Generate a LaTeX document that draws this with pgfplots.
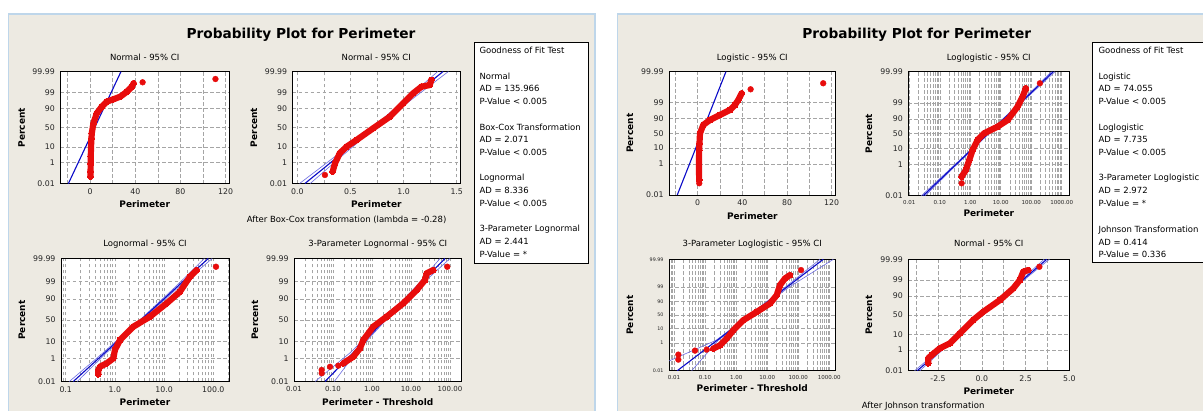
\documentclass[border=0pt]{standalone}
\usepackage{pgfplots}
\pgfplotsset{compat=1.18}
\usepackage{fontspec}
\setmainfont{DejaVu Sans}
\definecolor{bg}{RGB}{237,234,226}
\definecolor{panelb}{RGB}{190,214,234}
\definecolor{gridc}{RGB}{165,165,165}
\definecolor{datred}{RGB}{232,12,12}
\definecolor{fitblue}{RGB}{10,10,200}
\definecolor{ciblue}{RGB}{105,105,225}
\newcommand{\fs}{\fontsize{8.5}{10}\selectfont}
\newcommand{\fb}{\bfseries\fontsize{9}{10}\selectfont}
\pgfplotsset{
  pp/.style={scale only axis, anchor=south west,
    axis background/.style={fill=white},
    axis line style={black, line width=0.8pt},
    major tick length=0pt, minor tick length=0pt,
    grid=both,
    grid style={gridc, dash pattern=on 3.5pt off 2.5pt, line width=0.5pt},
    minor grid style={gridc, dash pattern=on 3.5pt off 2.5pt, line width=0.5pt},
    tick label style={font=\fontsize{7.8}{9}\selectfont, text=black!85},
    yticklabel style={xshift=-2pt}, xticklabel style={yshift=-1.5pt}},
  nq/.style={ymin=-3.719, ymax=3.719, ytick={-3.719,-2.326,-1.2816,0,1.2816,2.326,3.719}, yticklabels={0.01,1,10,50,90,99,99.99}},
  lq/.style={ymin=-9.21, ymax=9.21, ytick={-9.21,-4.595,-2.197,0,2.197,4.595,9.21}, yticklabels={0.01,1,10,50,90,99,99.99}},
  dat/.style={draw=datred, line width=6.2pt, line join=round, line cap=round, mark=*, mark size=2.9pt, mark options={draw=none, fill=datred, line width=0pt}},
  outl/.style={only marks, mark=*, mark size=2.9pt, color=datred, mark options={draw=none, fill=datred}},
  fit/.style={color=fitblue, line width=1.1pt, no marks},
  ci/.style={color=ciblue, line width=0.6pt, no marks},
}
\begin{document}
\begin{tikzpicture}[x=1pt,y=1pt]
\path[use as bounding box, fill=white] (0,0) rectangle (1203,411);
\path[fill=bg, draw=panelb, line width=1.2pt] (8.5,-5) rectangle (595,397);
\path[fill=bg, draw=panelb, line width=1.2pt] (617.3,-5) rectangle (1215,397);

% ---------- Plot 1: Normal ----------
\begin{axis}[pp, nq, at={(60.3pt,227.3pt)}, width=168.7pt, height=112pt,
  xmin=-26.4, xmax=123, xtick={0,40,80,120}, xticklabels={0,40,80,120}, minor xtick={-20,20,60,100}]
\addplot[fit] coordinates {(-19.3,-3.719) (27.3,3.719)};
\addplot[dat] coordinates {(0.3,-3.25) (0.4,-2.9) (0.5,-2.4) (0.6,-1.9) (0.8,-1.28) (1.2,-0.7) (1.5,-0.37) (2.9,0.29) (5.9,0.956) (10.4,1.40) (14.8,1.73) (20.7,1.89) (26.7,2.06) (32.6,2.39) (37,2.72) (38.5,2.95)};
\addplot[outl] coordinates {(46.5,3.015) (111,3.234)};
\end{axis}

% ---------- Plot 2: Normal after Box-Cox ----------
\begin{axis}[pp, nq, at={(292.7pt,227.5pt)}, width=167.3pt, height=112pt,
  xmin=-0.043, xmax=1.531, xtick={0,0.5,1,1.5}, xticklabels={0.0,0.5,1.0,1.5}, minor xtick={0.25,0.75,1.25}]
\addplot[ci] coordinates {(0.022,-3.719) (0.342,-2) (0.707,0) (1.042,2) (1.322,3.719)};
\addplot[ci] coordinates {(0.122,-3.719) (0.402,-2) (0.737,0) (1.102,2) (1.422,3.719)};
\addplot[fit] coordinates {(0.072,-3.719) (1.372,3.719)};
\addplot[outl] coordinates {(0.26,-3.154)};
\addplot[dat] coordinates {(0.333,-2.93) (0.355,-2.38) (0.40,-1.71) (0.464,-1.275) (0.558,-0.83) (0.714,-0.053) (0.871,0.717) (0.996,1.607) (1.09,2.27) (1.169,2.71) (1.247,2.82) (1.26,3.155)};
\end{axis}

% ---------- Plot 3: Lognormal ----------
\begin{axis}[pp, nq, at={(61pt,29.5pt)}, width=168pt, height=123pt, xmode=log,
  xmin=0.0802, xmax=208.6, xtick={0.1,1,10,100}, xticklabels={0.1,1.0,10.0,100.0},
  minor xtick={0.09,0.2,0.3,0.4,0.5,0.6,0.7,0.8,0.9,2,3,4,5,6,7,8,9,20,30,40,50,60,70,80,90,200}]
\addplot[ci] coordinates {(0.1186,-3.719) (0.5662,-2) (3.206,0) (16.94,2) (65.77,3.719)};
\addplot[ci] coordinates {(0.1714,-3.719) (0.6653,-2) (3.516,0) (19.91,2) (95.06,3.719)};
\addplot[fit] coordinates {(0.1426,-3.719) (79.07,3.719)};
\addplot[dat] coordinates {(0.46,-3.284) (0.46,-3.02) (0.50,-2.82) (0.68,-2.62) (0.93,-2.32) (1.0,-1.81) (1.27,-1.21) (2.37,-0.405) (5.16,0.20) (11.3,1.01) (21.0,1.71) (33.6,2.62) (45.9,3.02)};
\addplot[outl] coordinates {(113.5,3.22)};
\end{axis}

% ---------- Plot 4: 3-Parameter Lognormal ----------
\begin{axis}[pp, nq, at={(294pt,29.5pt)}, width=167.7pt, height=123pt, xmode=log,
  xmin=0.01, xmax=200, xtick={0.01,0.1,1,10,100}, xticklabels={0.01,0.10,1.00,10.00,100.00},
  xticklabel style={font=\fontsize{7}{8}\selectfont},
  minor xtick={0.02,0.03,0.04,0.05,0.06,0.07,0.08,0.09,0.2,0.3,0.4,0.5,0.6,0.7,0.8,0.9,2,3,4,5,6,7,8,9,20,30,40,50,60,70,80,90}]
\addplot[ci] coordinates {(0.0347,-3.719) (0.2692,-2) (2.042,0) (13.18,2) (55.46,3.719)};
\addplot[ci] coordinates {(0.1079,-3.719) (0.3802,-2) (2.275,0) (15.85,2) (100,3.719)};
\addplot[fit] coordinates {(0.0624,-3.719) (74.5,3.719)};
\addplot[outl] coordinates {(0.0513,-3.22) (0.0513,-3.02) (0.0838,-2.83) (0.137,-2.76) (85.3,3.22)};
\addplot[dat] coordinates {(0.184,-2.62) (0.332,-2.22) (0.49,-1.72) (0.60,-1.21) (1.08,-0.405) (2.38,0.20) (6.36,1.01) (14.0,1.81) (22.9,2.42) (25.3,2.82) (37.3,3.02)};
\end{axis}

% ---------- Plot 5: Logistic ----------
\begin{axis}[pp, lq, at={(669pt,216pt)}, width=166.7pt, height=123.3pt,
  xmin=-25.7, xmax=123.6, xtick={0,40,80,120}, xticklabels={0,40,80,120}, minor xtick={-20,20,60,100}]
\addplot[fit] coordinates {(-18.3,-9.21) (25.3,9.21)};
\addplot[outl] coordinates {(1.4,-7.46) (47.4,6.58) (112.4,7.48)};
\addplot[dat] coordinates {(1.3,-6.97) (1.2,-5.5) (1.2,-4.0) (1.3,-2.5) (1.6,-1.49) (2.06,0.0) (5.0,1.25) (11.0,2.0) (19.9,2.74) (28.9,3.49) (33.4,4.24) (36.3,4.98) (39.4,5.98)};
\end{axis}

% ---------- Plot 6: Loglogistic ----------
\begin{axis}[pp, lq, at={(908.3pt,215.3pt)}, width=161pt, height=124pt, xmode=log,
  xmin=0.0093, xmax=1780, xtick={0.01,0.1,1,10,100,1000}, xticklabels={0.01,0.10,1.00,10.00,100.00,1000.00},
  xticklabel style={font=\fontsize{5.5}{6}\selectfont},
  minor xtick={0.02,0.03,0.04,0.05,0.06,0.07,0.08,0.09,0.2,0.3,0.4,0.5,0.6,0.7,0.8,0.9,2,3,4,5,6,7,8,9,20,30,40,50,60,70,80,90,200,300,400,500,600,700,800,900}]
\addplot[ci] coordinates {(0.02506,-9.21) (0.3133,-4.6) (3.715,0) (42.07,4.6) (458.1,9.21)};
\addplot[ci] coordinates {(0.03304,-9.21) (0.3597,-4.6) (4.074,0) (48.31,4.6) (603.9,9.21)};
\addplot[fit] coordinates {(0.02877,-9.21) (526,9.21)};
\addplot[outl] coordinates {(0.522,-7.37) (193,7.49)};
\addplot[dat] coordinates {(0.522,-6.39) (0.72,-5.4) (0.93,-3.91) (1.2,-2.42) (1.75,-0.93) (2.88,0.06) (7.9,1.04) (16.9,2.03) (35.8,4.01) (52.3,5.5) (67,6.74)};
\end{axis}

% ---------- Plot 7: 3-Parameter Loglogistic ----------
\begin{axis}[pp, lq, at={(669pt,40.3pt)}, width=166.7pt, height=111.4pt, xmode=log,
  xmin=0.0069, xmax=1607, xtick={0.01,0.1,1,10,100,1000}, xticklabels={0.01,0.10,1.00,10.00,100.00,1000.00},
  xticklabel style={font=\fontsize{5.5}{6}\selectfont},
  yticklabel style={font=\fontsize{4.8}{5}\selectfont},
  minor xtick={0.007,0.008,0.009,0.02,0.03,0.04,0.05,0.06,0.07,0.08,0.09,0.2,0.3,0.4,0.5,0.6,0.7,0.8,0.9,2,3,4,5,6,7,8,9,20,30,40,50,60,70,80,90,200,300,400,500,600,700,800,900}]
\addplot[ci] coordinates {(0.00692,-7.6) (0.2239,-4.2) (2.692,0) (38.02,4.6) (501.2,9.21)};
\addplot[ci] coordinates {(0.03715,-9.21) (0.2630,-4.2) (3.090,0) (50.12,4.6) (1349,9.21)};
\addplot[fit] coordinates {(0.01276,-9.21) (641.2,9.21)};
\addplot[outl] coordinates {(0.0138,-6.55) (0.0138,-7.38) (0.0474,-5.89) (0.113,-5.72) (123,7.43)};
\addplot[dat] coordinates {(0.184,-5.56) (0.302,-5.01) (0.495,-3.9) (0.81,-2.52) (1.71,-0.86) (4.61,0.51) (12.4,1.91) (20.3,3.29) (25.9,4.94) (37.6,6.06) (54.4,6.6)};
\end{axis}

% ---------- Plot 8: Normal after Johnson ----------
\begin{axis}[pp, nq, at={(908.3pt,40.3pt)}, width=161pt, height=111.4pt,
  xmin=-4.2, xmax=5.0, xtick={-2.5,0,2.5,5}, xticklabels={-2.5,0.0,2.5,5.0}, minor xtick={-3.75,-1.25,1.25,3.75}]
\addplot[ci] coordinates {(-3.84,-3.719) (-2.07,-2) (-0.05,0) (1.94,2) (3.56,3.719)};
\addplot[ci] coordinates {(-3.54,-3.719) (-1.93,-2) (0.05,0) (2.06,2) (3.86,3.719)};
\addplot[fit] coordinates {(-3.69,-3.719) (3.71,3.719)};
\addplot[dat] coordinates {(-3.06,-3.225) (-3.06,-2.89) (-2.86,-2.67) (-2.39,-2.22) (-1.82,-1.89) (-1.25,-1.22) (-0.49,-0.33) (0.09,0.22) (1.04,1.0) (1.8,1.78) (2.18,2.34) (2.37,2.89) (2.66,3.0)};
\addplot[outl] coordinates {(3.29,3.22)};
\end{axis}

% ---------- Titles ----------
\node[anchor=base, font=\bfseries\fontsize{13.7}{16}\selectfont] at (301,372.7) {Probability Plot for Perimeter};
\node[anchor=base, font=\bfseries\fontsize{13.7}{16}\selectfont] at (916.7,372.7) {Probability Plot for Perimeter};

\node[anchor=base, font=\fs] at (144.7,350.3) {Normal - 95\% CI};
\node[anchor=base, font=\fs] at (376.3,350.3) {Normal - 95\% CI};
\node[anchor=base, font=\fs] at (145,164) {Lognormal - 95\% CI};
\node[anchor=base, font=\fs] at (377.8,164) {3-Parameter Lognormal - 95\% CI};
\node[anchor=base, font=\fs] at (752.3,350.3) {Logistic - 95\% CI};
\node[anchor=base, font=\fs] at (988.8,350.3) {Loglogistic - 95\% CI};
\node[anchor=base, font=\fs] at (752.3,164) {3-Parameter Loglogistic - 95\% CI};
\node[anchor=base, font=\fs] at (988.8,164) {Normal - 95\% CI};

\node[anchor=base, font=\fb] at (144.7,203.7) {Perimeter};
\node[anchor=base, font=\fb] at (376.3,203.7) {Perimeter};
\node[anchor=base, font=\fb] at (145,5.3) {Perimeter};
\node[anchor=base, font=\fb] at (377.8,5.3) {Perimeter - Threshold};
\node[anchor=base, font=\fb] at (752.3,191.7) {Perimeter};
\node[anchor=base, font=\fb] at (988.8,194.3) {Perimeter};
\node[anchor=base, font=\fb] at (752.3,19.3) {Perimeter - Threshold};
\node[anchor=base, font=\fb] at (988.8,16.7) {Perimeter};

\node[rotate=90, font=\fb] at (21.7,283.3) {Percent};
\node[rotate=90, font=\fb] at (254,283.5) {Percent};
\node[rotate=90, font=\fb] at (22,91) {Percent};
\node[rotate=90, font=\fb] at (255,91) {Percent};
\node[rotate=90, font=\fb] at (630,277.7) {Percent};
\node[rotate=90, font=\fb] at (869,277.3) {Percent};
\node[rotate=90, font=\fb] at (630,96) {Percent};
\node[rotate=90, font=\fb] at (869,96) {Percent};

\node[anchor=base west, font=\fs, inner sep=0pt] at (246.7,188.3) {After Box-Cox transformation (lambda = -0.28)};
\node[anchor=base west, font=\fs, inner sep=0pt] at (861.7,2.7) {After Johnson transformation};

% ---------- Goodness of fit boxes ----------
\path[fill=white, draw=black, line width=1pt] (474.3,368.3) rectangle (588.3,147.7);
\path[fill=white, draw=black, line width=1pt] (1092.7,368.3) rectangle (1215,148.3);
\begin{scope}[every node/.style={anchor=base west, font=\fs, inner sep=0pt}]
\node at (479.3,357.1) {Goodness of Fit Test};
\node at (479.3,331.7) {Normal};
\node at (479.3,319) {AD = 135.966};
\node at (479.3,306.3) {P-Value < 0.005};
\node at (479.3,280.9) {Box-Cox Transformation};
\node at (479.3,268.2) {AD = 2.071};
\node at (479.3,255.5) {P-Value < 0.005};
\node at (479.3,230.1) {Lognormal};
\node at (479.3,217.4) {AD = 8.336};
\node at (479.3,204.7) {P-Value < 0.005};
\node at (479.3,179.3) {3-Parameter Lognormal};
\node at (479.3,166.6) {AD = 2.441};
\node at (479.3,153.9) {P-Value = *};
\node at (1098.3,357.1) {Goodness of Fit Test};
\node at (1098.3,331.7) {Logistic};
\node at (1098.3,319) {AD = 74.055};
\node at (1098.3,306.3) {P-Value < 0.005};
\node at (1098.3,280.9) {Loglogistic};
\node at (1098.3,268.2) {AD = 7.735};
\node at (1098.3,255.5) {P-Value < 0.005};
\node at (1098.3,230.1) {3-Parameter Loglogistic};
\node at (1098.3,217.4) {AD = 2.972};
\node at (1098.3,204.7) {P-Value = *};
\node at (1098.3,178.6) {Johnson Transformation};
\node at (1098.3,165.9) {AD = 0.414};
\node at (1098.3,153.2) {P-Value = 0.336};
\end{scope}
\end{tikzpicture}
\end{document}
